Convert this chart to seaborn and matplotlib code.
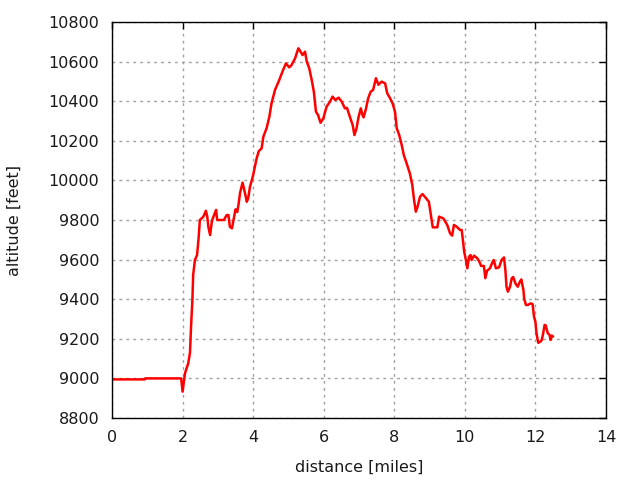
import matplotlib
matplotlib.use("Agg")
import matplotlib.pyplot as plt
import seaborn as sns
import pandas as pd

distance = [0.0, 0.93, 0.94, 1.96, 2.00, 2.07, 2.16, 2.21, 2.24, 2.28, 2.30, 2.35, 2.41, 2.45, 2.49,
            2.59, 2.66, 2.70, 2.73, 2.78, 2.83, 2.86, 2.95, 2.98, 3.06, 3.17, 3.25, 3.30, 3.34, 3.40,
            3.46, 3.50, 3.55, 3.59, 3.63, 3.70, 3.77, 3.82, 3.86, 3.91, 3.99, 4.05, 4.10, 4.16, 4.24,
            4.29, 4.38, 4.46, 4.52, 4.62, 4.74, 4.85, 4.93, 5.02, 5.08, 5.19, 5.28, 5.31, 5.40, 5.47,
            5.52, 5.59, 5.66, 5.72, 5.78, 5.84, 5.91, 5.99, 6.08, 6.18, 6.25, 6.33, 6.42, 6.51, 6.60,
            6.66, 6.74, 6.82, 6.87, 6.93, 6.98, 7.05, 7.10, 7.13, 7.20, 7.26, 7.33, 7.40, 7.48, 7.55,
            7.64, 7.74, 7.80, 7.88, 7.95, 8.02, 8.07, 8.14, 8.21, 8.27, 8.35, 8.44, 8.51, 8.56, 8.61,
            8.66, 8.73, 8.80, 8.90, 8.98, 9.03, 9.09, 9.22, 9.27, 9.39, 9.50, 9.58, 9.64, 9.69, 9.77,
            9.86, 9.91, 9.95, 9.98, 10.03, 10.07, 10.12, 10.16, 10.19, 10.26, 10.35, 10.41, 10.46,
            10.54, 10.58, 10.63, 10.71, 10.79, 10.82, 10.88, 10.97, 11.04, 11.11, 11.15, 11.18, 11.22,
            11.28, 11.33, 11.37, 11.44, 11.50, 11.56, 11.60, 11.66, 11.68, 11.73, 11.79, 11.86, 11.92,
            11.96, 12.00, 12.03, 12.08, 12.15, 12.18, 12.22, 12.26, 12.29, 12.35, 12.40, 12.43, 12.46,
            12.50]
altitude = [8995, 8995, 9000, 9000, 8933, 9027, 9076, 9130, 9261, 9404, 9522, 9598, 9623, 9699, 9800,
            9817, 9847, 9817, 9766, 9724, 9792, 9810, 9851, 9800, 9800, 9800, 9825, 9825, 9766, 9758,
            9817, 9854, 9840, 9884, 9938, 9989, 9935, 9892, 9910, 9968, 10019, 10069, 10112, 10148, 10162,
            10221, 10263, 10322, 10389, 10457, 10507, 10558, 10591, 10571, 10580, 10617, 10667, 10660, 10633, 10650,
            10600, 10566, 10507, 10448, 10347, 10330, 10291, 10314, 10372, 10398, 10423, 10406, 10418, 10398, 10364,
            10366, 10322, 10280, 10229, 10263, 10314, 10364, 10330, 10318, 10364, 10415, 10448, 10457, 10516, 10483,
            10499, 10490, 10440, 10415, 10390, 10347, 10263, 10229, 10179, 10128, 10086, 10036, 9977, 9901, 9842,
            9867, 9918, 9931, 9910, 9892, 9834, 9763, 9763, 9817, 9808, 9775, 9733, 9721, 9775, 9766,
            9750, 9750, 9690, 9640, 9598, 9556, 9615, 9623, 9598, 9620, 9607, 9590, 9568,
            9568, 9506, 9544, 9556, 9590, 9598, 9556, 9561, 9598, 9611, 9544, 9463, 9438,
            9463, 9506, 9512, 9477, 9463, 9489, 9500, 9446, 9404, 9371, 9371, 9379, 9375,
            9312, 9286, 9228, 9180, 9187, 9194, 9228, 9270, 9268, 9228, 9220, 9194, 9216,
            9212]

x_ticks = [0, 2, 4, 6, 8, 10, 12, 14]
y_ticks = [8800, 9000, 9200, 9400, 9600, 9800, 10000, 10200, 10400, 10600, 10800]

sns.set_theme(style="white")
plt.rcParams['font.family'] = ['DejaVu Sans']

df = pd.DataFrame({"distance": distance, "altitude": altitude})

fig = plt.figure(figsize=(6.4, 4.8), dpi=100)
ax = fig.add_axes([112/640, 1-418/480, (606-112)/640, (418-22)/480])

ax.grid(True, color="#a0a0a0", linestyle=(0, (2, 3)), linewidth=1)
ax.set_axisbelow(True)

sns.lineplot(data=df, x="distance", y="altitude", ax=ax, color="#ff0000", linewidth=1.8,
             estimator=None, sort=False)

ax.set_xlim(0, 14)
ax.set_ylim(8800, 10800)
ax.set_xticks(x_ticks)
ax.set_yticks(y_ticks)
ax.set_xticklabels([str(t) for t in x_ticks])
ax.set_yticklabels([str(t) for t in y_ticks])
ax.tick_params(direction="in", length=5, width=1, top=True, right=True,
               labelsize=11.5, colors="black", labelcolor="#1a1a1a", pad=9)
for s in ax.spines.values():
    s.set_color("black")
    s.set_linewidth(1)
    s.set_visible(True)
ax.set_xlabel("distance [miles]", fontsize=11.5, color="#1a1a1a", labelpad=10)
ax.set_ylabel("altitude [feet]", fontsize=11.5, color="#1a1a1a", labelpad=19)

fig.savefig("out.png", dpi=100)
